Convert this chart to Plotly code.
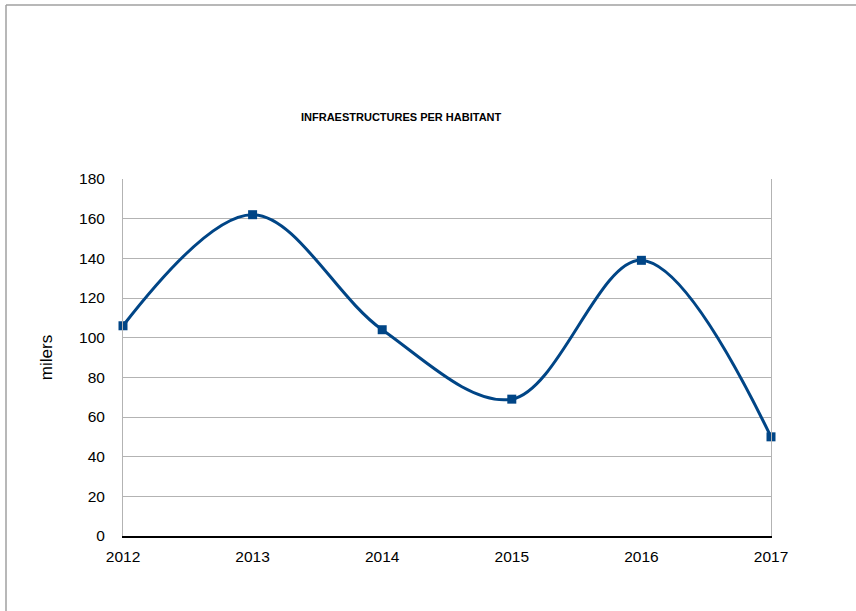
import plotly.graph_objects as go

years = [2012, 2013, 2014, 2015, 2016, 2017]
values = [106, 162, 104, 69, 139, 50]
title_text = "INFRAESTRUCTURES PER HABITANT"
y_title = "milers"

W, H = 856, 611
L, R, T, B = 123, 771, 179, 536
pw, ph = R - L, B - T

def px(x):
    return (x - L) / pw

def py(y):
    return (B - y) / ph

fig = go.Figure()
fig.add_trace(go.Scatter(
    x=years, y=values, mode="lines+markers",
    line=dict(color="#004586", width=3, shape="spline", smoothing=1),
    marker=dict(symbol="square", size=9, color="#004586"),
    cliponaxis=False, showlegend=False,
))

fig.update_layout(
    width=W, height=H,
    margin=dict(l=L, r=W - R, t=T, b=H - B, pad=0),
    paper_bgcolor="white", plot_bgcolor="white",
    font=dict(family="Liberation Sans, Arial, sans-serif", color="#000000", size=15),
    xaxis=dict(
        range=[2012, 2017], tickmode="array", tickvals=years,
        ticktext=[str(y) for y in years],
        showgrid=False, zeroline=False,
        showline=True, linecolor="#000000", linewidth=1.5,
        ticks="", ticklabelstandoff=6,
        tickfont=dict(size=15.5),
    ),
    yaxis=dict(
        range=[0, 180], tick0=0, dtick=20,
        showgrid=True, gridcolor="#b3b3b3", gridwidth=1,
        zeroline=False,
        showline=True, linecolor="#b3b3b3", linewidth=1, mirror=True,
        ticks="", ticklabelstandoff=14,
        tickfont=dict(size=15.5),
        title=dict(text=y_title, font=dict(size=17), standoff=22),
    ),
    annotations=[dict(
        text="<b>" + title_text + "</b>", x=px(401), y=py(117),
        xref="paper", yref="paper", xanchor="center", yanchor="middle",
        showarrow=False, font=dict(size=11, color="#000000"),
    )],
    shapes=[
        dict(type="line", xref="paper", yref="paper",
             x0=px(6), x1=px(6), y0=py(611), y1=py(5),
             line=dict(color="#a0a0a0", width=1.5)),
        dict(type="line", xref="paper", yref="paper",
             x0=px(6), x1=px(856), y0=py(5), y1=py(5),
             line=dict(color="#a0a0a0", width=1.5)),
    ],
)

fig.write_html("out.html", config={"displayModeBar": False},
               post_script="document.body.style.margin='0';document.body.style.overflow='hidden';")
